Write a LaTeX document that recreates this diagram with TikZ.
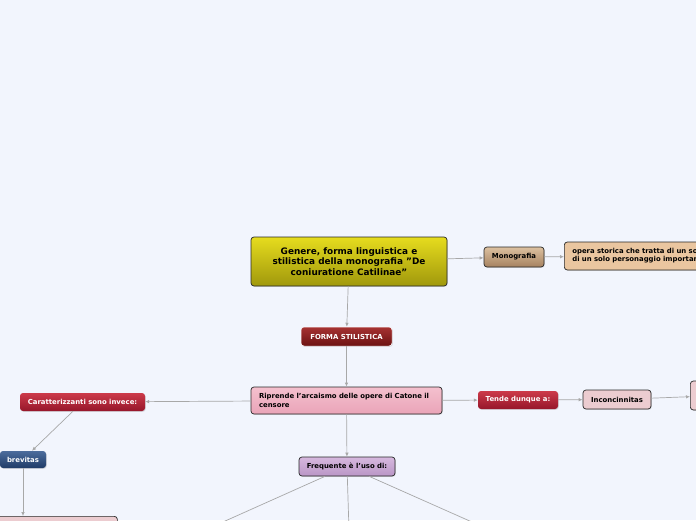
\documentclass[tikz,border=0pt]{standalone}
\usepackage{fontspec}
\setmainfont{DejaVu Sans}
\usetikzlibrary{arrows.meta,shadows}
\definecolor{bg}{RGB}{242,245,253}
\definecolor{edge}{RGB}{168,168,168}
\definecolor{bdr}{RGB}{40,40,40}
\tikzset{
  px/.style={x=1pt,y=-1pt},
  conn/.style={draw=edge,line width=0.7pt,-{Latex[length=4pt,width=3.5pt]}},
  base/.style={rounded corners=3pt,inner sep=0pt,align=center,font=\bfseries\fontsize{6.9}{8.2}\selectfont},
  darkbox/.style={base,draw=bdr,line width=0.7pt,text=black},
  lightbox/.style={base,text=white},
  mainbox/.style={darkbox,top color={rgb,255:red,230;green,220;blue,30},bottom color={rgb,255:red,160;green,152;blue,12},font=\bfseries\fontsize{8.9}{10.8}\selectfont,minimum width=196pt,minimum height=49pt},
  tanbox/.style={darkbox,top color={rgb,255:red,220;green,192;blue,160},bottom color={rgb,255:red,166;green,130;blue,96}},
  paletan/.style={darkbox,fill={rgb,255:red,234;green,198;blue,160}},
  redbox/.style={lightbox,top color={rgb,255:red,166;green,50;blue,50},bottom color={rgb,255:red,108;green,18;blue,18},draw=white,line width=0.5pt},
  crimson/.style={lightbox,top color={rgb,255:red,204;green,58;blue,74},bottom color={rgb,255:red,150;green,22;blue,42}},
  pinkbox/.style={darkbox,top color={rgb,255:red,244;green,192;blue,206},bottom color={rgb,255:red,234;green,164;blue,184}},
  palepink/.style={darkbox,fill={rgb,255:red,236;green,204;blue,208}},
  bluebox/.style={lightbox,top color={rgb,255:red,76;green,108;blue,156},bottom color={rgb,255:red,32;green,60;blue,104}},
  lilac/.style={darkbox,top color={rgb,255:red,214;green,184;blue,222},bottom color={rgb,255:red,186;green,150;blue,198}},
  shade/.style={drop shadow={shadow xshift=0.8pt,shadow yshift=-0.8pt,opacity=0.25}}
}
\begin{document}
\begin{tikzpicture}[px]
\fill[bg] (0,0) rectangle (696,520);
\useasboundingbox (0,0) rectangle (696,520);
\clip (0,0) rectangle (696,520);

\node[mainbox,shade] (main) at (349,261.5) {Genere, forma linguistica e\\stilistica della monografia \symbol{34}De\\coniuratione Catilinae\symbol{34}};
\node[tanbox,shade,minimum width=60pt,minimum height=20pt] (mono) at (514,257) {Monografia};
\node[paletan,shade,anchor=west,minimum width=240pt,minimum height=28pt,align=left,text width=224pt,inner xsep=8pt] (opera) at (564,256) {opera storica che tratta di un solo evento o\\di un solo personaggio importante};
\node[redbox,shade,minimum width=91pt,minimum height=19pt] (forma) at (346.5,336.5) {FORMA STILISTICA};
\node[pinkbox,shade,minimum width=191pt,minimum height=27pt,align=left,text width=175pt,inner xsep=8pt] (ripr) at (346.5,400.5) {Riprende l'arcaismo delle opere di Catone il\\censore};
\node[crimson,shade,minimum width=80pt,minimum height=18pt] (tende) at (518,400) {Tende dunque a:};
\node[palepink,shade,minimum width=68pt,minimum height=19pt] (incon) at (617,399.5) {Inconcinnitas};
\node[palepink,shade,anchor=west,minimum width=60pt,minimum height=29pt] (right) at (690,395.5) {};
\node[crimson,shade,minimum width=125pt,minimum height=18pt] (carat) at (82.5,402) {Caratterizzanti sono invece:};
\node[bluebox,shade,minimum width=46pt,minimum height=17pt] (brev) at (23,459.5) {brevitas};
\node[palepink,shade,anchor=north west,minimum width=127pt,minimum height=24pt] (bott) at (-10,516) {};
\node[lilac,shade,minimum width=96pt,minimum height=19pt] (freq) at (347,466.5) {Frequente è l'uso di:};

\coordinate (c1) at (205,530);
\coordinate (c2) at (349,530);
\coordinate (c3) at (490,530);

\draw[conn] (main) -- (mono);
\draw[conn] (mono) -- (opera);
\draw[conn] (main) -- (forma);
\draw[conn] (forma) -- (ripr);
\draw[conn] (ripr) -- (tende);
\draw[conn] (tende) -- (incon);
\draw[conn] (incon) -- (right);
\draw[conn] (ripr) -- (carat);
\draw[conn] (carat) -- (brev);
\draw[conn] (brev.south) -- (bott.north -| brev.south);
\draw[conn] (ripr) -- (freq);
\draw[conn] (freq) -- (c1);
\draw[conn] (freq) -- (c2);
\draw[conn] (freq) -- (c3);
\end{tikzpicture}
\end{document}
